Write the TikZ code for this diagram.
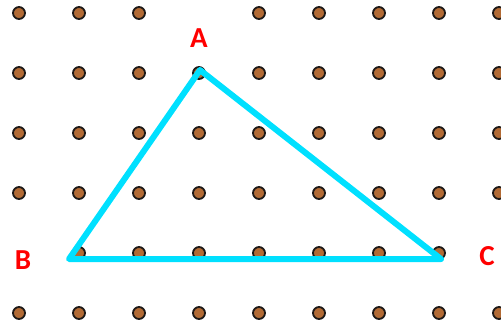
\documentclass[tikz,border=0pt]{standalone}
\usepackage{fontspec}
\newfontfamily\labelfont{Carlito}
\usetikzlibrary{positioning}
\definecolor{pegbrown}{RGB}{178,106,52}
\definecolor{pegrim}{RGB}{30,26,24}
\definecolor{bandcyan}{RGB}{0,224,255}
\definecolor{labelred}{RGB}{255,0,0}
\tikzset{
  peg/.style={circle, draw=pegrim, fill=pegbrown, line width=1.8pt, minimum size=12pt, inner sep=0pt},
  band/.style={draw=bandcyan, line width=6pt, line join=round, line cap=round},
  vlabel/.style={font=\labelfont\bfseries\fontsize{29}{29}\selectfont, text=labelred, inner sep=0pt},
}
\begin{document}
\begin{tikzpicture}[x=1pt,y=-1pt]
  \useasboundingbox (0,0) rectangle (501,325);
  % geoboard pegs
  \foreach \i in {0,...,8}{
    \foreach \j in {0,...,5}{
      \pgfmathtruncatemacro{\skip}{(\i==3 && \j==0) || (\i==0 && \j==4) || (\i==8 && \j==4)}
      \ifnum\skip=0
        \node[peg] (p\i\j) at (19+60*\i,13+60*\j) {};
      \fi
    }
  }
  % triangle corners
  \coordinate (A) at (200,70);
  \coordinate (B) at (69,259);
  \coordinate (C) at (441,259);
  \draw[band] (A) -- (B) -- (C) -- cycle;
  % corner labels
  \node[vlabel] (la) at (199,38) {A};
  \node[vlabel] (lb) at (23,260) {B};
  \node[vlabel] (lc) at (487,256) {C};
\end{tikzpicture}
\end{document}
